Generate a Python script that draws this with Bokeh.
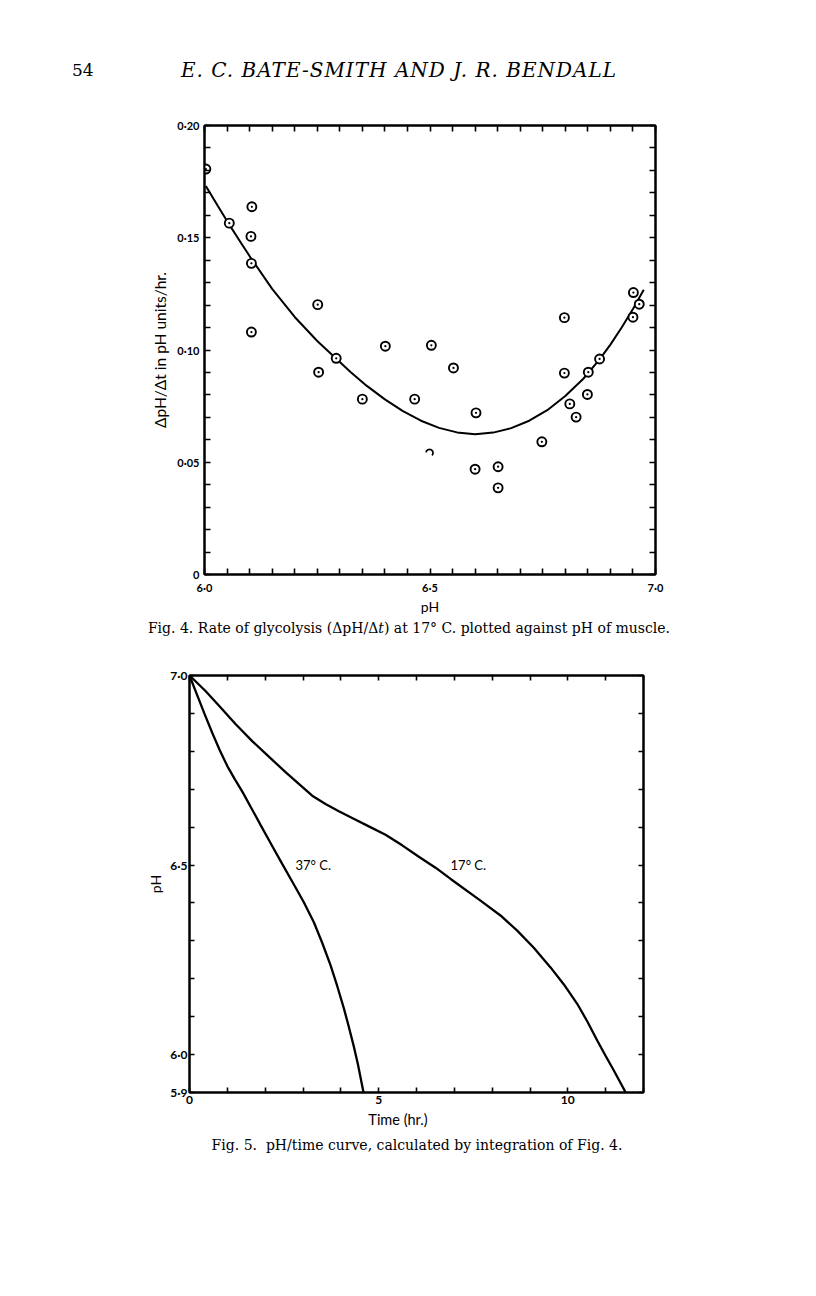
from bokeh.plotting import figure
from bokeh.models import Range1d, LinearAxis, FixedTicker, CustomJSTickFormatter, Label, Div
from bokeh.embed import file_html
from bokeh.resources import INLINE

# ---------------- Page texts ----------------
page_number = "54"
running_head = "E. C. BATE-SMITH AND J. R. BENDALL"
caption4 = "Fig. 4. Rate of glycolysis (ΔpH/Δ<i>t</i>) at 17° C. plotted against pH of muscle."
caption5 = "Fig. 5.&nbsp; pH/time curve, calculated by integration of Fig. 4."

# ---------------- Fig. 4 data ----------------
fig4_ph = [6.003, 6.055, 6.105, 6.103, 6.104, 6.104, 6.251, 6.253, 6.292, 6.350, 6.401,
           6.466, 6.503, 6.552, 6.602, 6.600, 6.651, 6.651, 6.748, 6.798, 6.798, 6.810,
           6.824, 6.849, 6.851, 6.876, 6.951, 6.950, 6.964]
fig4_rate = [0.1806, 0.1565, 0.1638, 0.1506, 0.1386, 0.1080, 0.1202, 0.0901, 0.0963, 0.0781, 0.1017,
             0.0781, 0.1021, 0.0920, 0.0720, 0.0469, 0.0480, 0.0386, 0.0591, 0.1144, 0.0897, 0.0760,
             0.0701, 0.0802, 0.0901, 0.0960, 0.1256, 0.1146, 0.1204]
fig4_partial_ph = [6.499]
fig4_partial_rate = [0.0542]
fig4_curve_ph = [6.003, 6.03, 6.056, 6.08, 6.103, 6.15, 6.20, 6.25, 6.291, 6.325, 6.36,
                 6.40, 6.44, 6.48, 6.52, 6.56, 6.60, 6.64, 6.68, 6.72, 6.76, 6.80, 6.84,
                 6.876, 6.90, 6.925, 6.95, 6.974]
fig4_curve_rate = [0.1730, 0.1640, 0.1555, 0.1480, 0.1409, 0.1272, 0.1147, 0.1040, 0.0963,
                   0.0900, 0.0840, 0.0780, 0.0728, 0.0685, 0.0653, 0.0633, 0.0625, 0.0632,
                   0.0652, 0.0685, 0.0732, 0.0795, 0.0872, 0.0958, 0.1024, 0.1100, 0.1183,
                   0.1268]
fig4_x_ticks = [6.0, 6.05, 6.1, 6.15, 6.2, 6.25, 6.3, 6.35, 6.4, 6.45, 6.5,
                6.55, 6.6, 6.65, 6.7, 6.75, 6.8, 6.85, 6.9, 6.95, 7.0]
fig4_x_labels = ["6·0", "", "", "", "", "", "", "", "", "", "6·5",
                 "", "", "", "", "", "", "", "", "", "7·0"]
fig4_y_ticks = [0.0, 0.01, 0.02, 0.03, 0.04, 0.05, 0.06, 0.07, 0.08, 0.09, 0.10,
                0.11, 0.12, 0.13, 0.14, 0.15, 0.16, 0.17, 0.18, 0.19, 0.20]
fig4_y_labels = ["0", "", "", "", "", "0·05", "", "", "", "", "0·10",
                 "", "", "", "", "0·15", "", "", "", "", "0·20"]

# ---------------- Fig. 5 data ----------------
t_37 = [0.0, 0.2, 0.4, 0.6, 0.8, 1.0, 1.2, 1.4, 1.63, 1.877, 2.16, 2.45,
        2.74, 3.022, 3.287, 3.507, 3.727, 3.904, 4.08, 4.212, 4.344, 4.45, 4.60]
ph_37 = [7.0, 6.949, 6.898, 6.849, 6.803, 6.761, 6.726, 6.693, 6.651, 6.606, 6.555, 6.503,
         6.452, 6.402, 6.349, 6.295, 6.236, 6.181, 6.122, 6.073, 6.021, 5.975, 5.9]
t_17 = [0.0, 0.423, 0.775, 1.216, 1.657, 2.097, 2.538, 2.89, 3.243, 3.595, 3.947, 4.30,
        4.74, 5.181, 5.622, 6.062, 6.503, 6.92, 7.692, 8.22, 8.662, 9.10, 9.543, 9.895,
        10.248, 10.512, 10.777, 10.997, 11.216, 11.53]
ph_17 = [7.0, 6.959, 6.921, 6.872, 6.827, 6.786, 6.745, 6.714, 6.683, 6.661, 6.642, 6.624,
         6.602, 6.580, 6.552, 6.522, 6.493, 6.462, 6.406, 6.367, 6.327, 6.282, 6.230, 6.185,
         6.134, 6.088, 6.037, 5.997, 5.958, 5.9]
fig5_x_ticks = [0, 1, 2, 3, 4, 5, 6, 7, 8, 9, 10, 11, 12]
fig5_x_labels = ["0", "", "", "", "", "5", "", "", "", "", "10", "", ""]
fig5_y_ticks = [5.9, 6.0, 6.1, 6.2, 6.3, 6.4, 6.5, 6.6, 6.7, 6.8, 6.9, 7.0]
fig5_y_labels = ["5·9", "6·0", "", "", "", "", "6·5", "", "", "", "", "7·0"]

SANS = "Lato"
SERIF = "DejaVu Serif"


def style_axis(ax, ticks, labels, font_size="11px", standoff=5, tick_len=6):
    ax.ticker = FixedTicker(ticks=ticks, minor_ticks=[])
    ax.formatter = CustomJSTickFormatter(code="return ''")
    if labels is not None:
        ax.major_label_overrides = dict(zip(ticks, labels))
    ax.major_tick_in = tick_len
    ax.major_tick_out = 0
    ax.minor_tick_in = 0
    ax.minor_tick_out = 0
    ax.axis_line_color = "black"
    ax.axis_line_width = 2
    ax.major_tick_line_color = "black"
    ax.major_tick_line_width = 1.6
    ax.major_label_text_font = SANS
    ax.major_label_text_font_style = "bold"
    ax.major_label_text_font_size = font_size
    ax.major_label_text_color = "black"
    ax.major_label_standoff = standoff
    ax.axis_label_text_font = SANS
    ax.axis_label_text_font_style = "normal"
    ax.axis_label_text_color = "black"


def base_fig(width, height, xr, yr, bl, br, bt, bb):
    p = figure(width=width, height=height, x_range=xr, y_range=yr,
               output_backend="svg", toolbar_location=None,
               min_border_left=bl, min_border_right=br,
               min_border_top=bt, min_border_bottom=bb)
    p.grid.visible = False
    p.outline_line_color = "black"
    p.outline_line_width = 2
    p.background_fill_color = "white"
    p.border_fill_color = "white"
    return p


def text_div(height, items):
    inner = "".join(
        '<div style="position:absolute;left:%dpx;top:%dpx;width:%dpx;text-align:%s;'
        'line-height:%dpx;font-family:\'%s\';font-size:%.1fpx;font-style:%s;'
        'letter-spacing:%.1fpx;color:black;white-space:nowrap;">%s</div>' % it for it in items)
    html = ('<div style="position:relative;width:816px;height:%dpx;">%s</div>' % (height, inner))
    return Div(text=html, width=816, height=height, margin=0)


# ---------------- running head ----------------
head = text_div(100, [
    (72, 60, 40, "left", 20, SERIF, 17, "normal", 0, page_number),
    (99, 59, 600, "center", 22, SERIF, 20, "italic", 1.0, running_head),
])

# ================= Fig. 4 =================
p4 = base_fig(800, 518, Range1d(6.0, 7.0), Range1d(0.0, 0.20), 204, 145, 25, 44)
style_axis(p4.xaxis[0], fig4_x_ticks, fig4_x_labels, "11px", standoff=6)
style_axis(p4.yaxis[0], fig4_y_ticks, fig4_y_labels, "11px", standoff=5)
p4.xaxis[0].axis_label = "pH"
p4.xaxis[0].axis_label_text_font_size = "14px"
p4.xaxis[0].axis_label_standoff = 1
p4.yaxis[0].axis_label = "ΔpH/Δt in pH units/hr."
p4.yaxis[0].axis_label_text_font_size = "15.5px"
p4.yaxis[0].axis_label_standoff = 5
top4 = LinearAxis()
style_axis(top4, fig4_x_ticks, None)
p4.add_layout(top4, "above")
right4 = LinearAxis()
style_axis(right4, fig4_y_ticks, None)
p4.add_layout(right4, "right")

p4.line(fig4_curve_ph, fig4_curve_rate, line_color="black", line_width=2)
p4.scatter(fig4_ph, fig4_rate, marker="circle_dot", size=9, line_color="black",
           line_width=1.9, fill_color="white")
p4.arc(fig4_partial_ph, fig4_partial_rate, radius=3.5, radius_units="screen",
       start_angle=-0.8, end_angle=3.0, line_color="black", line_width=1.8)

cap4 = text_div(32, [(109, 0, 600, "center", 20, SERIF, 14, "normal", 0, caption4)])

# ================= Fig. 5 =================
p5 = base_fig(800, 462, Range1d(0, 12), Range1d(5.9, 7.0), 189, 157, 25, 20)
style_axis(p5.xaxis[0], fig5_x_ticks, fig5_x_labels, "12px", standoff=3, tick_len=5)
style_axis(p5.yaxis[0], fig5_y_ticks, fig5_y_labels, "12px", standoff=2, tick_len=5)
p5.yaxis[0].axis_label = "pH"
p5.yaxis[0].axis_label_text_font_size = "14px"
p5.yaxis[0].axis_label_standoff = 3
top5 = LinearAxis()
style_axis(top5, fig5_x_ticks, None, tick_len=5)
p5.add_layout(top5, "above")
right5 = LinearAxis()
style_axis(right5, fig5_y_ticks, None, tick_len=5)
p5.add_layout(right5, "right")

p5.line(t_37, ph_37, line_color="black", line_width=2.3)
p5.line(t_17, ph_17, line_color="black", line_width=2.3)

p5.add_layout(Label(x=2.80, y=6.501, text="37° C.", text_font=SANS, text_font_size="13px",
                    text_baseline="middle", text_align="left", text_color="black"))
p5.add_layout(Label(x=6.90, y=6.501, text="17° C.", text_font=SANS, text_font_size="13px",
                    text_baseline="middle", text_align="left", text_color="black"))

cap5 = text_div(60, [
    (248, 0, 300, "center", 16, SANS, 14.5, "normal", 0, "Time (hr.)"),
    (117, 23, 600, "center", 20, SERIF, 14, "normal", 0, caption5),
])

open("out.html", "w").write(file_html([head, p4, cap4, p5, cap5], INLINE))
